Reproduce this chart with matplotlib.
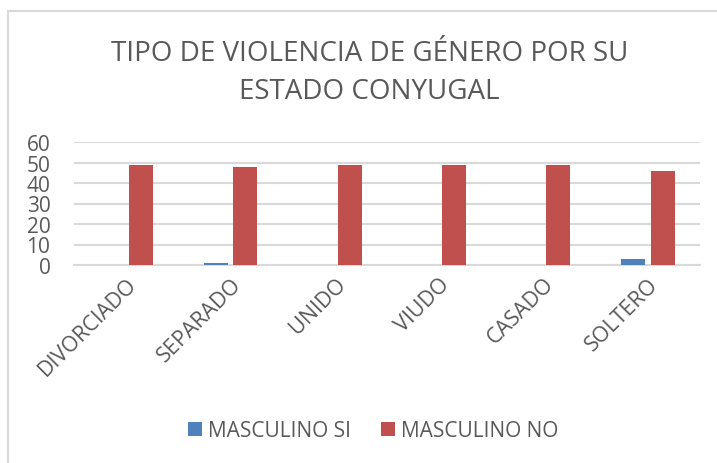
import matplotlib
matplotlib.use("Agg")
import matplotlib.pyplot as plt
import numpy as np

categories = ["DIVORCIADO", "SEPARADO", "UNIDO", "VIUDO", "CASADO", "SOLTERO"]
masculino_si = [0, 1, 0, 0, 0, 3]
masculino_no = [49, 48, 49, 49, 49, 46]
y_ticks = [0, 10, 20, 30, 40, 50, 60]
title = "TIPO DE VIOLENCIA DE GÉNERO POR SU\nESTADO CONYUGAL"

plt.rcParams["font.family"] = ["Open Sans", "DejaVu Sans"]

text_color = "#595959"
grid_color = "#D9D9D9"
blue = "#4F81BD"
red = "#C0504D"

fig = plt.figure(figsize=(7.17, 4.64), dpi=100)
fig.patch.set_facecolor("white")

# chart frame (only the top and left edges fall inside the canvas)
frame = plt.Rectangle((8 / 717, -0.1), 1.2, 1 - 12 / 464 + 0.1, transform=fig.transFigure,
                      fill=False, edgecolor=grid_color, linewidth=1.5)
fig.add_artist(frame)

ax = fig.add_axes([74 / 717, 1 - 266 / 464, (700 - 74) / 717, (266 - 143) / 464])

x = np.arange(len(categories))
w = 0.23
off = 0.143
ax.bar(x - off, masculino_si, w, color=blue, label="MASCULINO SI", zorder=3)
ax.bar(x + off, masculino_no, w, color=red, label="MASCULINO NO", zorder=3)

ax.set_xlim(-0.5, len(categories) - 0.5)
ax.set_ylim(0, 60)
ax.set_yticks(y_ticks)
ax.set_yticklabels([str(v) for v in y_ticks], fontsize=15, color=text_color)
ax.set_xticks(x)
ax.set_xticklabels(categories, rotation=45, ha="right", rotation_mode="anchor",
                   fontsize=15.5, color=text_color)
ax.tick_params(axis="both", length=0)
ax.tick_params(axis="y", pad=17)
ax.tick_params(axis="x", pad=6)

ax.yaxis.grid(True, color=grid_color, linewidth=1.5, zorder=0)
for s in ["left", "right", "top"]:
    ax.spines[s].set_visible(False)
ax.spines["bottom"].set_color(grid_color)
ax.spines["bottom"].set_linewidth(1.5)

fig.text(0.515, 1 - 73 / 464, title, ha="center", va="center", fontsize=20,
         color=text_color, linespacing=1.5)

fig.legend(loc="center", bbox_to_anchor=(0.521, 1 - 432 / 464), ncol=2, frameon=False,
           fontsize=15, handlelength=0.65, handleheight=0.65, handletextpad=0.3,
           columnspacing=1.45, labelcolor=text_color)

fig.savefig("out.png", dpi=100)
